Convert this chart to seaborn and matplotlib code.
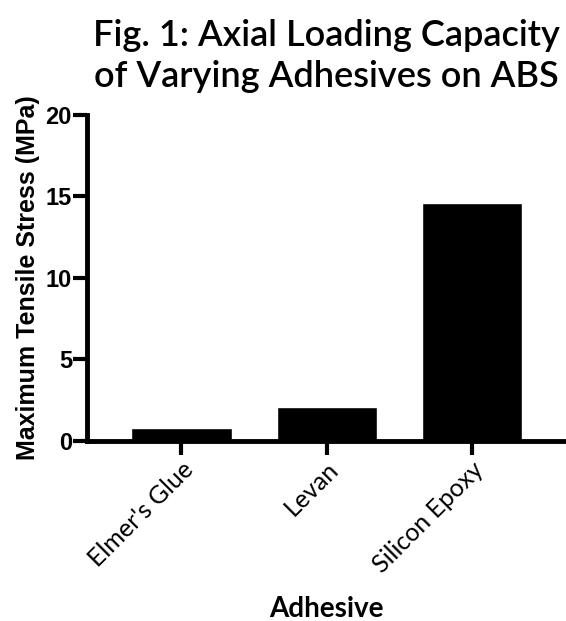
import pandas as pd
import matplotlib.pyplot as plt
import seaborn as sns

# data
adhesives = ["Elmer's Glue", "Levan", "Silicon Epoxy"]
stress_mpa = [0.82, 2.07, 14.6]

df = pd.DataFrame({"Adhesive": adhesives, "Stress": stress_mpa})

sns.set_theme(style='white')
plt.rcParams['font.family'] = ['Lato', 'DejaVu Sans']
plt.rcParams['text.color'] = 'black'
plt.rcParams['axes.labelcolor'] = 'black'
plt.rcParams['xtick.color'] = 'black'
plt.rcParams['ytick.color'] = 'black'

fig = plt.figure(figsize=(5.66, 6.21), dpi=100)
ax = fig.add_axes([0.154, 0.29, 0.846, 0.525])

sns.barplot(data=df, x="Adhesive", y="Stress", color="black", width=0.69,
            saturation=1, ax=ax)

ax.set_ylim(0, 20)
ax.set_xlim(-0.65, 2.65)
ax.set_yticks([0, 5, 10, 15, 20])

# spines / ticks
for side in ['top', 'right']:
    ax.spines[side].set_visible(False)
for side in ['left', 'bottom']:
    ax.spines[side].set_linewidth(3.5)
    ax.spines[side].set_color('black')
    ax.spines[side].set_clip_on(False)
ax.tick_params(axis='both', direction='out', length=10, width=3, color='black',
               bottom=True, left=True)
ax.tick_params(axis='x', pad=2)
ax.tick_params(axis='y', pad=1)

for lab in ax.get_yticklabels():
    lab.set_family(['Liberation Sans', 'DejaVu Sans'])
    lab.set_fontweight('bold')
    lab.set_fontsize(17)
ax.set_xticks(range(len(adhesives)))
ax.set_xticklabels(adhesives, rotation=45, ha='right', rotation_mode='anchor',
                   fontsize=18, fontweight='normal')

ax.set_ylabel("Maximum Tensile Stress (MPa)", fontsize=18, fontweight='bold',
              family=['Liberation Sans', 'DejaVu Sans'], labelpad=4)
ax.set_xlabel("Adhesive", fontsize=20, fontweight='bold')
ax.xaxis.set_label_coords(0.5, -0.475)
ax.set_title("Fig. 1: Axial Loading Capacity\nof Varying Adhesives on ABS",
             fontsize=26, fontweight='semibold', linespacing=1.3, pad=20)

plt.savefig('out.png', dpi=100)
